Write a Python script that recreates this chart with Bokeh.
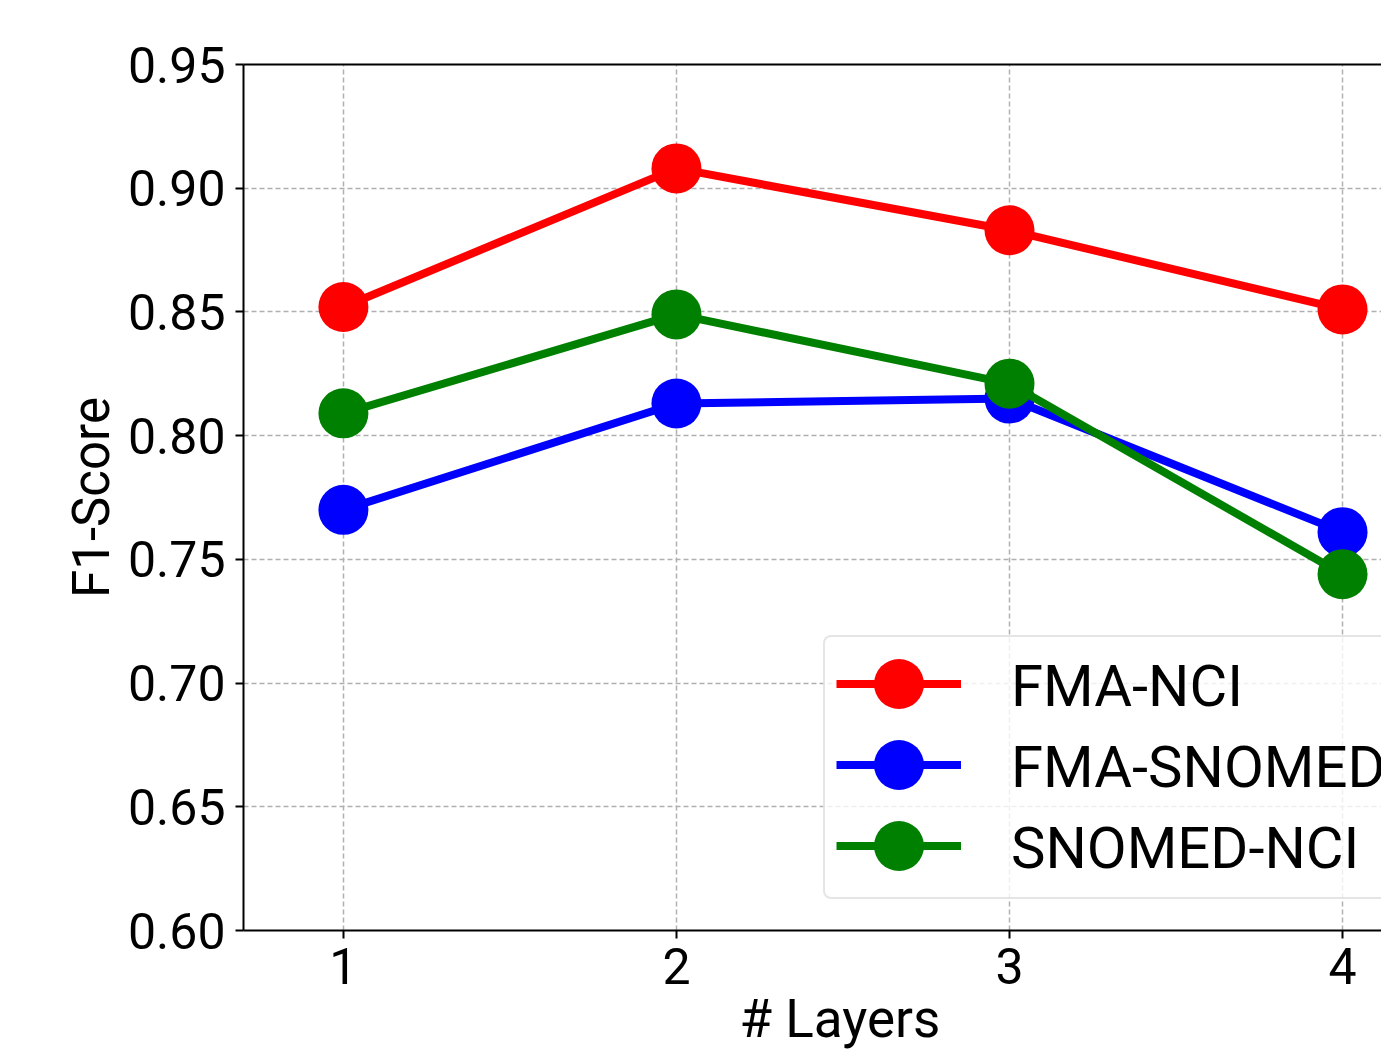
from bokeh.plotting import figure
from bokeh.models import (Range1d, FixedTicker, LinearAxis, Legend, Title,
                          LegendItem, PrintfTickFormatter)
from bokeh.embed import file_html
from bokeh.resources import INLINE

# ---- data ----
layers = [1, 2, 3, 4]
fma_nci = [0.852, 0.908, 0.883, 0.851]
fma_snomed = [0.770, 0.813, 0.815, 0.761]
snomed_nci = [0.809, 0.849, 0.821, 0.744]
series_names = ["FMA-NCI", "FMA-SNOMED", "SNOMED-NCI"]
series_values = [fma_nci, fma_snomed, snomed_nci]
colors = ["#ff0000", "#0000ff", "#008000"]
x_ticks = [1, 2, 3, 4]
y_ticks = [0.60, 0.65, 0.70, 0.75, 0.80, 0.85, 0.90, 0.95]
x_label = "# Layers"
y_label = "F1-Score"

FONT = "Roboto"

p = figure(width=1381, height=1053,
           x_range=Range1d(0.7, 4.117), y_range=Range1d(0.60, 0.95),
           output_backend="svg", toolbar_location=None,
           min_border_left=243, min_border_top=64, min_border_right=0,
           min_border_bottom=123, outline_line_color=None,
           background_fill_color="white", border_fill_color="white")

for ax in (p.xaxis[0], p.yaxis[0]):
    ax.axis_line_width = 2
    ax.axis_line_color = "black"
    ax.major_tick_out = 8
    ax.major_tick_in = 0
    ax.major_tick_line_width = 2
    ax.major_tick_line_color = "black"
    ax.minor_tick_line_color = None
    ax.major_label_text_font = FONT
    ax.major_label_text_font_size = "50px"
    ax.major_label_text_color = "black"

p.xaxis[0].ticker = FixedTicker(ticks=x_ticks)
p.xaxis[0].major_label_standoff = 9
p.yaxis[0].ticker = FixedTicker(ticks=y_ticks)
p.yaxis[0].formatter = PrintfTickFormatter(format="%.2f")
p.yaxis[0].major_label_standoff = 10
p.yaxis[0].axis_label = y_label
p.yaxis[0].axis_label_text_font = FONT
p.yaxis[0].axis_label_text_font_size = "51px"
p.yaxis[0].axis_label_text_font_style = "normal"
p.yaxis[0].axis_label_text_color = "black"
p.yaxis[0].axis_label_standoff = 4

top_axis = LinearAxis(ticker=FixedTicker(ticks=[]), axis_line_width=2,
                      axis_line_color="black", major_tick_line_color=None,
                      minor_tick_line_color=None,
                      major_label_text_font_size="0px")
p.add_layout(top_axis, "above")

p.add_layout(Title(text=x_label, align="left", offset=496,
                   vertical_align="top", standoff=3,
                   text_font=FONT, text_font_size="53px",
                   text_font_style="normal", text_color="black"), "below")

for g in (p.xgrid[0], p.ygrid[0]):
    g.grid_line_color = "#b0b0b0"
    g.grid_line_dash = "5 3"
    g.grid_line_width = 1.5

series_renderers = []
for name, vals, c in zip(series_names, series_values, colors):
    r1 = p.line(layers, vals, line_color=c, line_width=8)
    r2 = p.scatter(layers, vals, size=50, fill_color=c, line_color=None)
    series_renderers.append([r1, r2])

# legend box with the entry texts
main_legend = Legend(items=[LegendItem(label=n, renderers=[]) for n in series_names],
                     location=(580, 31), orientation="vertical",
                     glyph_width=126, glyph_height=78, label_height=78,
                     spacing=3, padding=10, margin=0, label_standoff=50,
                     label_text_font=FONT, label_text_font_size="58px",
                     label_text_color="black",
                     border_line_color="#cccccc", border_line_width=2,
                     background_fill_color="white", background_fill_alpha=0.8)
if "border_radius" in Legend.properties():
    main_legend.border_radius = 8
p.add_layout(main_legend)

# large line+marker swatches, one per entry
for k, rs in enumerate(series_renderers):
    sw = Legend(items=[LegendItem(label=" ", renderers=rs)],
                location=(592.5, 184.5 - 81 * k), orientation="vertical",
                glyph_width=125, glyph_height=125, spacing=0, padding=0,
                margin=0, label_standoff=0, label_width=0,
                label_text_font_size="10px",
                border_line_color=None, background_fill_color=None,
                background_fill_alpha=0)
    p.add_layout(sw)

open("out.html", "w").write(file_html(p, INLINE))
